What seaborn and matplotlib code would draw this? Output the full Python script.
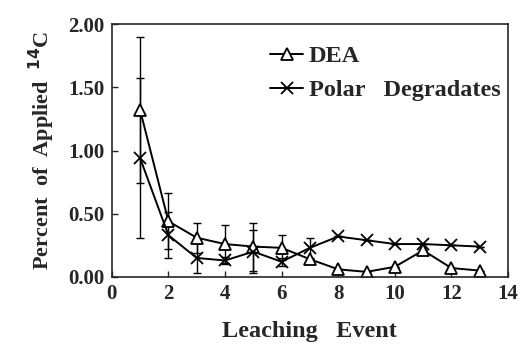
import matplotlib
matplotlib.use("Agg")
import matplotlib.pyplot as plt
import seaborn as sns

# values
events = [1, 2, 3, 4, 5, 6, 7, 8, 9, 10, 11, 12, 13]
dea = [1.32, 0.44, 0.31, 0.26, 0.24, 0.23, 0.14, 0.06, 0.04, 0.08, 0.21, 0.07, 0.05]
dea_err = [0.58, 0.22, 0.12, 0.15, 0.19, 0.10, 0.0, 0.0, 0.0, 0.0, 0.0, 0.0, 0.0]
polar = [0.94, 0.33, 0.15, 0.13, 0.20, 0.12, 0.23, 0.32, 0.29, 0.26, 0.26, 0.25, 0.24]
polar_err = [0.63, 0.18, 0.12, 0.03, 0.17, 0.03, 0.08, 0.0, 0.0, 0.0, 0.0, 0.0, 0.0]
series_names = ["DEA", "Polar   Degradates"]
y_ticks = [0.0, 0.5, 1.0, 1.5, 2.0]
x_ticks = [0, 2, 4, 6, 8, 10, 12, 14]

sns.set_style("ticks")
plt.rcParams["font.family"] = ["Liberation Serif", "DejaVu Serif"]
plt.rcParams["font.weight"] = "bold"

fig = plt.figure(figsize=(5.2, 3.44), dpi=100)
ax = fig.add_axes([0.215, 0.195, 0.762, 0.735])

# error bars first, so the markers sit on top
ax.errorbar(events, dea, yerr=dea_err, fmt="none", ecolor="black",
            elinewidth=1, capsize=3, capthick=1)
ax.errorbar(events, polar, yerr=polar_err, fmt="none", ecolor="black",
            elinewidth=1, capsize=3, capthick=1)

sns.lineplot(x=events, y=dea, label=series_names[0], color="black",
             marker="^", markersize=9, markeredgewidth=1.3, linewidth=1.4,
             markerfacecolor="white", markeredgecolor="black", ax=ax)
sns.lineplot(x=events, y=polar, label=series_names[1], color="black",
             marker="x", markersize=9, markeredgewidth=1.3, linewidth=1.4,
             markeredgecolor="black", ax=ax)

ax.set_xlim(0, 14)
ax.set_ylim(0, 2.0)
ax.set_xticks(x_ticks)
ax.set_yticks(y_ticks)
ax.set_yticklabels([f"{v:.2f}" for v in y_ticks])
ax.tick_params(labelsize=15, width=1, length=4, direction="in", pad=5)
for lab in ax.get_xticklabels() + ax.get_yticklabels():
    lab.set_fontweight("bold")
for sp in ax.spines.values():
    sp.set_linewidth(1.2)
    sp.set_visible(True)

ax.set_xlabel("Leaching   Event", fontsize=17.5, fontweight="bold", labelpad=12.5)
ax.set_ylabel("Percent  of  Applied  $^{\\mathbf{14}}$C", fontsize=16,
              fontweight="bold", labelpad=8)

leg = ax.legend(loc="upper right", bbox_to_anchor=(1.0, 0.945), frameon=False,
                handlelength=1.35, handletextpad=0.25, labelspacing=0.5,
                borderaxespad=0, borderpad=0.3,
                prop={"weight": "bold", "size": 17.5})

fig.savefig("out.png", dpi=100)
